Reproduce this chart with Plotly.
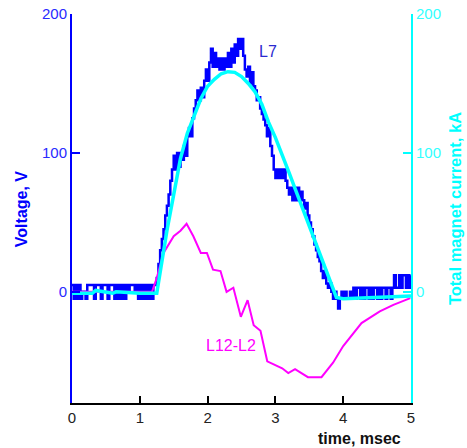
import plotly.graph_objects as go

# ---- data ----
# L7 voltage (V), sampled every 0.025 ms from t = 0 to 5 ms
blue_dt = 0.025
blue_v = [
    5, -5, 5, -5, 5, -5, 0, 0, -5, 5, 5, 5, 5, -5, 5, 5, 5, -5, 5, 5,
    5, -5, 5, 5, 5, -5, 5, -5, 5, -5, 5, -5, 5, 0, 5, 5, 5, 0, 5, -5,
    5, -5, 5, -5, 5, -5, 5, -5, 5, 5, 10, 20, 30, 38, 45, 55, 62, 70, 80, 88,
    98, 88, 100, 90, 100, 95, 105, 98, 112, 118, 112, 125, 132, 138, 145, 138, 147, 140, 152, 160,
    152, 165, 175, 162, 172, 162, 168, 160, 168, 160, 168, 162, 172, 162, 175, 165, 178, 170, 182, 175,
    182, 170, 160, 155, 162, 150, 158, 148, 145, 138, 140, 132, 128, 124, 120, 112, 118, 105, 98, 88,
    82, 88, 82, 88, 82, 88, 80, 75, 70, 75, 66, 75, 66, 75, 66, 72, 66, 60, 64, 55,
    50, 45, 40, 34, 30, 25, 22, 15, 10, 15, 6, 3, 6, 0, -5, 0, -5, -12, -5, 0,
    -5, 0, -5, -5, 0, -5, 3, -5, 3, 3, -5, 3, -5, 3, 3, -5, 3, -5, 3, 3,
    -5, 3, -5, 3, 3, -5, 3, 3, -5, 3, 12, 3, 3, 12, 3, 12, 12, 3, 12, 3,
    12,
]
blue_t = [round(i * blue_dt, 3) for i in range(len(blue_v))]

# Total magnet current (kA)
cyan_t = [0, 0.3, 0.35, 0.6, 0.65, 1.0, 1.25, 1.4, 1.5, 1.6, 1.7, 1.8, 1.9, 2.0,
          2.1, 2.2, 2.3, 2.4, 2.5, 2.6, 2.7, 2.8, 2.9, 3.0, 3.1, 3.2, 3.3, 3.4,
          3.5, 3.6, 3.7, 3.8, 3.9, 4.0, 4.5, 5.0]
cyan_v = [-1, -1, 1, -1, 0, -1, -1, 44, 70, 96, 114, 127, 139, 148,
          153, 157, 158.5, 158, 155, 150, 144, 135, 122, 111, 99, 86, 73, 60,
          47, 35, 22, 9, -4, -5, -4, -3]

# L12-L2 voltage (V)
mag_t = [0, 1.18, 1.25, 1.35, 1.5, 1.6, 1.69, 1.79, 1.9, 1.99, 2.08, 2.19, 2.28,
         2.38, 2.49, 2.59, 2.68, 2.78, 2.88, 3.1, 3.19, 3.29, 3.48, 3.68, 3.85,
         4.0, 4.27, 4.54, 4.74, 4.99]
mag_v = [0, 0, 10, 28, 40, 44, 49, 40, 28, 28, 16, 15, 0,
         3, -18, -6, -24, -28, -50, -55, -58.5, -55.6, -61.4, -61.4, -51,
         -39, -22.5, -14, -9.4, -4.5]

x_ticks = [0, 1, 2, 3, 4, 5]
y_ticks = [0, 100, 200]

FONT = "Liberation Sans, Arial, sans-serif"
BLUE = "#0000ff"
CYAN = "#00ffff"
MAG = "#ff00ff"

fig = go.Figure()
fig.add_trace(go.Scatter(x=blue_t, y=blue_v, mode="lines",
                         line=dict(color=BLUE, width=2.5, shape="hv"),
                         showlegend=False, hoverinfo="skip"))
fig.add_trace(go.Scatter(x=mag_t, y=mag_v, mode="lines",
                         line=dict(color=MAG, width=2),
                         showlegend=False, hoverinfo="skip"))
fig.add_trace(go.Scatter(x=cyan_t, y=cyan_v, mode="lines", yaxis="y2",
                         line=dict(color=CYAN, width=3.5),
                         showlegend=False, hoverinfo="skip"))

fig.update_layout(
    width=467, height=448,
    margin=dict(l=72, r=56, t=14, b=45, autoexpand=False),
    paper_bgcolor="white", plot_bgcolor="white",
    font=dict(family=FONT, size=15),
    xaxis=dict(range=[0, 5], tickvals=x_ticks, showgrid=False, zeroline=False,
               automargin=False,
               showline=True, linecolor="black", linewidth=2,
               ticks="inside", ticklen=7, tickwidth=2, tickcolor="black",
               tickfont=dict(color="#222222", size=15)),
    yaxis=dict(range=[-80, 200], tickvals=y_ticks, showgrid=False, zeroline=False,
               automargin=False,
               showline=True, linecolor=BLUE, linewidth=2,
               ticks="inside", ticklen=8, tickwidth=2, tickcolor=BLUE,
               tickfont=dict(color="#2a2aff", size=15)),
    yaxis2=dict(range=[-80, 200], tickvals=y_ticks, overlaying="y", side="right",
                showgrid=False, zeroline=False, automargin=False,
                showline=True, linecolor=CYAN, linewidth=2,
                ticks="inside", ticklen=8, tickwidth=2, tickcolor=CYAN,
                tickfont=dict(color="#33ffff", size=15)),
    annotations=[
        dict(text="<b>time, msec</b>", xref="paper", yref="paper",
             x=0.976, y=-0.0925, xanchor="right", yanchor="middle",
             showarrow=False, font=dict(size=16, color="#111111")),
        dict(text="<b>Voltage, V</b>", xref="paper", yref="paper",
             x=-0.150, y=0.4987, xanchor="center", yanchor="middle",
             textangle=-90, showarrow=False, font=dict(size=16, color=BLUE)),
        dict(text="<b>Total magnet current, kA</b>", xref="paper", yref="paper",
             x=1.13, y=0.4987, xanchor="center", yanchor="middle",
             textangle=-90, showarrow=False, font=dict(size=16.5, color=CYAN)),
        dict(text="L7", x=2.89, y=172.7, xref="x", yref="y", xanchor="center",
             yanchor="middle", showarrow=False, font=dict(size=16, color="#2a2ad0")),
        dict(text="L12-L2", x=2.345, y=-38.8, xref="x", yref="y", xanchor="center",
             yanchor="middle", showarrow=False, font=dict(size=16, color=MAG)),
    ],
)

fig.write_html("out.html")
